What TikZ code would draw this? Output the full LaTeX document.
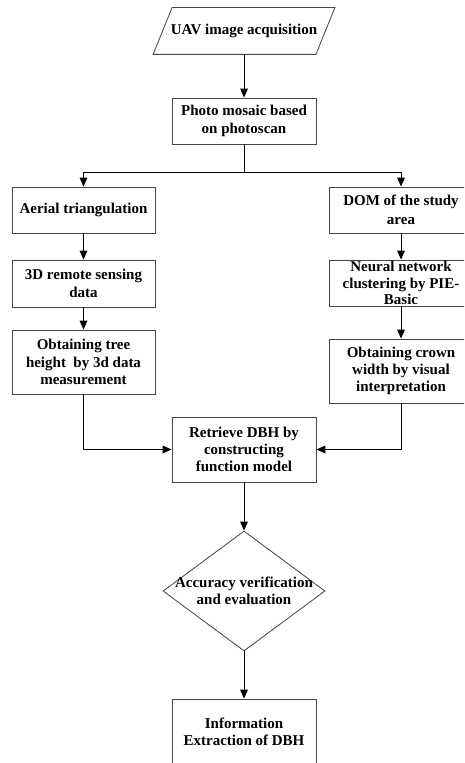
\documentclass[tikz,border=0pt]{standalone}
\usepackage{fontspec}
\setmainfont{Liberation Serif}
\usetikzlibrary{positioning,arrows.meta,shapes.geometric}
\definecolor{boxline}{RGB}{70,70,70}
\tikzset{
  pbox/.style={draw=boxline, line width=0.7pt, fill=white, align=center,
               minimum width=4.32cm, minimum height=1.38cm, inner sep=1pt,
               font=\fontsize{12.8}{14.8}\selectfont\bfseries},
  ioline/.style={draw=boxline, line width=0.7pt},
  decbox/.style={diamond, draw=boxline, line width=0.7pt, fill=white,
                 minimum width=4.86cm, minimum height=3.6cm, inner sep=0pt},
  dtext/.style={align=center, font=\fontsize{12.8}{14.8}\selectfont\bfseries},
  link/.style={black, line width=0.85pt},
  flow/.style={link, -{Triangle[length=2.7mm,width=2.3mm]}},
}
\begin{document}
\begin{tikzpicture}[x=0.03cm,y=-0.03cm]
  \useasboundingbox (0,0) rectangle (464,763);
  \clip (0,0) rectangle (464,763);
  % ====== top ======
  \node[pbox, draw=none, fill=none, minimum width=4.86cm] (uav) at (244,31)
       {UAV image acquisition};
  \draw[ioline] ([xshift=-0.285cm]uav.south west) -- ([xshift=-0.285cm]uav.south east)
       -- ([xshift=0.285cm]uav.north east) -- ([xshift=0.285cm]uav.north west) -- cycle;
  \node[pbox] (photo) at (244,121) {Photo mosaic based\\on photoscan};
  \coordinate (split) at (244,172);
  % ====== left column ======
  \node[pbox, minimum width=4.29cm] (aerial) at (83.5,210) {Aerial triangulation};
  \node[pbox, minimum width=4.29cm, minimum height=1.41cm] (remote) at (83.5,283.5)
       {3D remote sensing\\data};
  \node[pbox, minimum width=4.29cm, minimum height=1.92cm] (treeh) at (83.5,362)
       {Obtaining tree\\height\ \ by 3d data\\measurement};
  % ====== right column ======
  \node[pbox, font=\fontsize{12.8}{16.5}\selectfont\bfseries] (dom) at (401,210)
       {DOM of the study\\area};
  \node[pbox, font=\fontsize{12.8}{14}\selectfont\bfseries] (neural) at (401,283)
       {Neural network\\clustering by PIE-\\Basic};
  \node[pbox, minimum height=1.92cm] (crown) at (401,371)
       {Obtaining crown\\width by visual\\interpretation};
  % ====== bottom ======
  \node[pbox, minimum height=1.95cm] (retrieve) at (244,449.5)
       {Retrieve DBH by\\constructing\\function model};
  \node[decbox] (acc) at (244,591) {};
  \node[dtext] (acctext) at (acc.center) {Accuracy verification\\and evaluation};
  \node[pbox, minimum height=1.95cm] (info) at (244,731.5)
       {Information\\Extraction of DBH};
  % ====== connectors ======
  \draw[flow] (uav.south) -- (photo.north);
  \draw[link] (photo.south) -- (split);
  \draw[flow] (split) -| (aerial.north);
  \draw[flow] (split) -| (dom.north);
  \draw[flow] (aerial) -- (remote);
  \draw[flow] (remote) -- (treeh);
  \draw[flow] (dom) -- (neural);
  \draw[flow] (neural) -- (crown);
  \draw[flow] (treeh.south) |- (retrieve.west);
  \draw[flow] (crown.south) |- (retrieve.east);
  \draw[flow] (retrieve) -- (acc);
  \draw[flow] (acc) -- (info);
\end{tikzpicture}
\end{document}
